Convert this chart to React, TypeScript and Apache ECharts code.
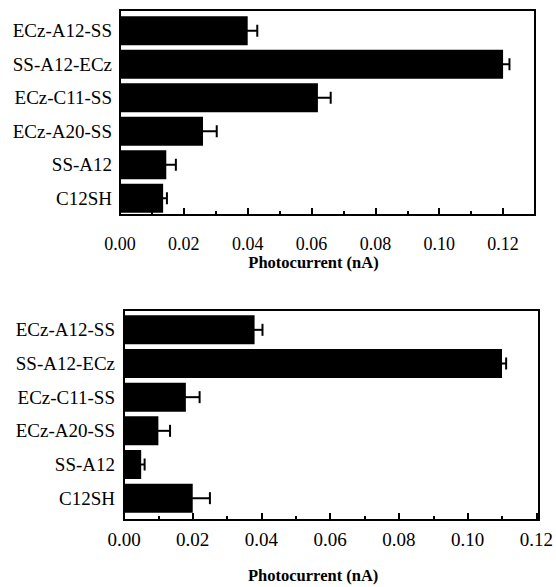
import React, { useEffect, useRef } from "react";
import * as echarts from "echarts";

const categories = ["ECz-A12-SS", "SS-A12-ECz", "ECz-C11-SS", "ECz-A20-SS", "SS-A12", "C12SH"];
const topValues = [0.04, 0.12, 0.062, 0.026, 0.0145, 0.0135];
const topErrors = [0.003, 0.002, 0.004, 0.0043, 0.003, 0.0012];
const bottomValues = [0.038, 0.11, 0.018, 0.01, 0.005, 0.02];
const bottomErrors = [0.0023, 0.0012, 0.004, 0.0034, 0.001, 0.005];
const majorStep = 0.02;
const minorStep = 0.01;
const topMax = 0.13;
const bottomMax = 0.12;
const axisTitle = "Photocurrent (nA)";

const FONT = "Liberation Serif";

function errorRender(params: any, api: any) {
  const v = api.value(0);
  const c = api.value(1);
  const e = api.value(2);
  const p0 = api.coord([v - e, c]);
  const p1 = api.coord([v + e, c]);
  const h = 6;
  const st = { stroke: "#000", lineWidth: 2 };
  return {
    type: "group",
    children: [
      { type: "line", shape: { x1: p0[0], y1: p0[1], x2: p1[0], y2: p1[1] }, style: st },
      { type: "line", shape: { x1: p1[0], y1: p1[1] - h, x2: p1[0], y2: p1[1] + h }, style: st },
      { type: "line", shape: { x1: p0[0], y1: p0[1] - h, x2: p0[0], y2: p0[1] + h }, style: st },
    ],
  };
}

function mainX(gridIndex: number, max: number, offset: number, labelSize: number, margin: number, nameGap: number, namePad: number, showMax: boolean) {
  return {
    type: "value",
    gridIndex,
    min: 0,
    max,
    interval: majorStep,
    position: "bottom",
    offset,
    axisLine: { show: true, lineStyle: { color: "#000", width: 2 } },
    splitLine: { show: false },
    axisTick: {
      show: true,
      inside: true,
      length: 7,
      lineStyle: { color: "#000", width: 2 },
    },
    axisLabel: {
      showMaxLabel: showMax,
      formatter: (v: number) => v.toFixed(2),
      color: "#000",
      fontFamily: FONT,
      fontSize: labelSize,
      margin,
    },
    name: axisTitle,
    nameLocation: "middle",
    nameGap,
    nameTextStyle: {
      color: "#000",
      fontFamily: FONT,
      fontWeight: "bold",
      fontSize: 16.5,
      padding: [0, namePad, 0, 0],
    },
  };
}

function minorX(gridIndex: number, max: number, offset: number) {
  return {
    type: "value",
    gridIndex,
    min: 0,
    max,
    interval: minorStep,
    position: "bottom",
    offset,
    axisLine: { show: false },
    splitLine: { show: false },
    axisLabel: { show: false },
    axisTick: {
      show: true,
      inside: true,
      length: 4,
      lineStyle: { color: "#000", width: 2 },
    },
  };
}

function catY(gridIndex: number, margin: number) {
  return {
    type: "category",
    gridIndex,
    data: categories,
    inverse: true,
    axisLine: { show: false },
    axisTick: { show: false },
    axisLabel: { color: "#000", fontFamily: FONT, fontSize: 19, margin },
  };
}

export default function App() {
  const ref = useRef<HTMLDivElement>(null);
  useEffect(() => {
    if (!ref.current) return;
    const chart = echarts.init(ref.current, null, { renderer: "svg" });
    chart.setOption({
      animation: false,
      backgroundColor: "#fff",
      textStyle: { fontFamily: FONT },
      grid: [
        { left: 120, right: 21, top: 14, height: 201 },
        { left: 124, right: 17, top: 313, height: 202 },
      ],
      xAxis: [
        mainX(0, topMax, 0, 18, 20, 34, 28, false),
        minorX(0, topMax, 0),
        mainX(1, bottomMax, 5, 19, 10, 47, 34, true),
        minorX(1, bottomMax, 5),
      ],
      yAxis: [catY(0, 8), catY(1, 9)],
      series: [
        {
          type: "bar",
          xAxisIndex: 0,
          yAxisIndex: 0,
          data: topValues,
          barWidth: 29,
          itemStyle: { color: "#000" },
        },
        {
          type: "custom",
          xAxisIndex: 0,
          yAxisIndex: 0,
          renderItem: errorRender,
          encode: { x: 0, y: 1 },
          data: categories.map((_, i) => [topValues[i], i, topErrors[i]]),
          z: 5,
        },
        {
          type: "bar",
          xAxisIndex: 2,
          yAxisIndex: 1,
          data: bottomValues,
          barWidth: 29,
          itemStyle: { color: "#000" },
        },
        {
          type: "custom",
          xAxisIndex: 2,
          yAxisIndex: 1,
          renderItem: errorRender,
          encode: { x: 0, y: 1 },
          data: categories.map((_, i) => [bottomValues[i], i, bottomErrors[i]]),
          z: 5,
        },
      ],
      graphic: [
        {
          type: "rect",
          z: 100,
          shape: { x: 120, y: 10, width: 415, height: 205 },
          style: { fill: "none", stroke: "#000", lineWidth: 2 },
        },
        {
          type: "rect",
          z: 100,
          shape: { x: 124, y: 310, width: 415, height: 210 },
          style: { fill: "none", stroke: "#000", lineWidth: 2 },
        },
      ],
    });
    return () => chart.dispose();
  }, []);
  return (
    <div
      ref={ref}
      style={{ position: "fixed", left: 0, top: 0, width: 556, height: 587, background: "#fff" }}
    />
  );
}
